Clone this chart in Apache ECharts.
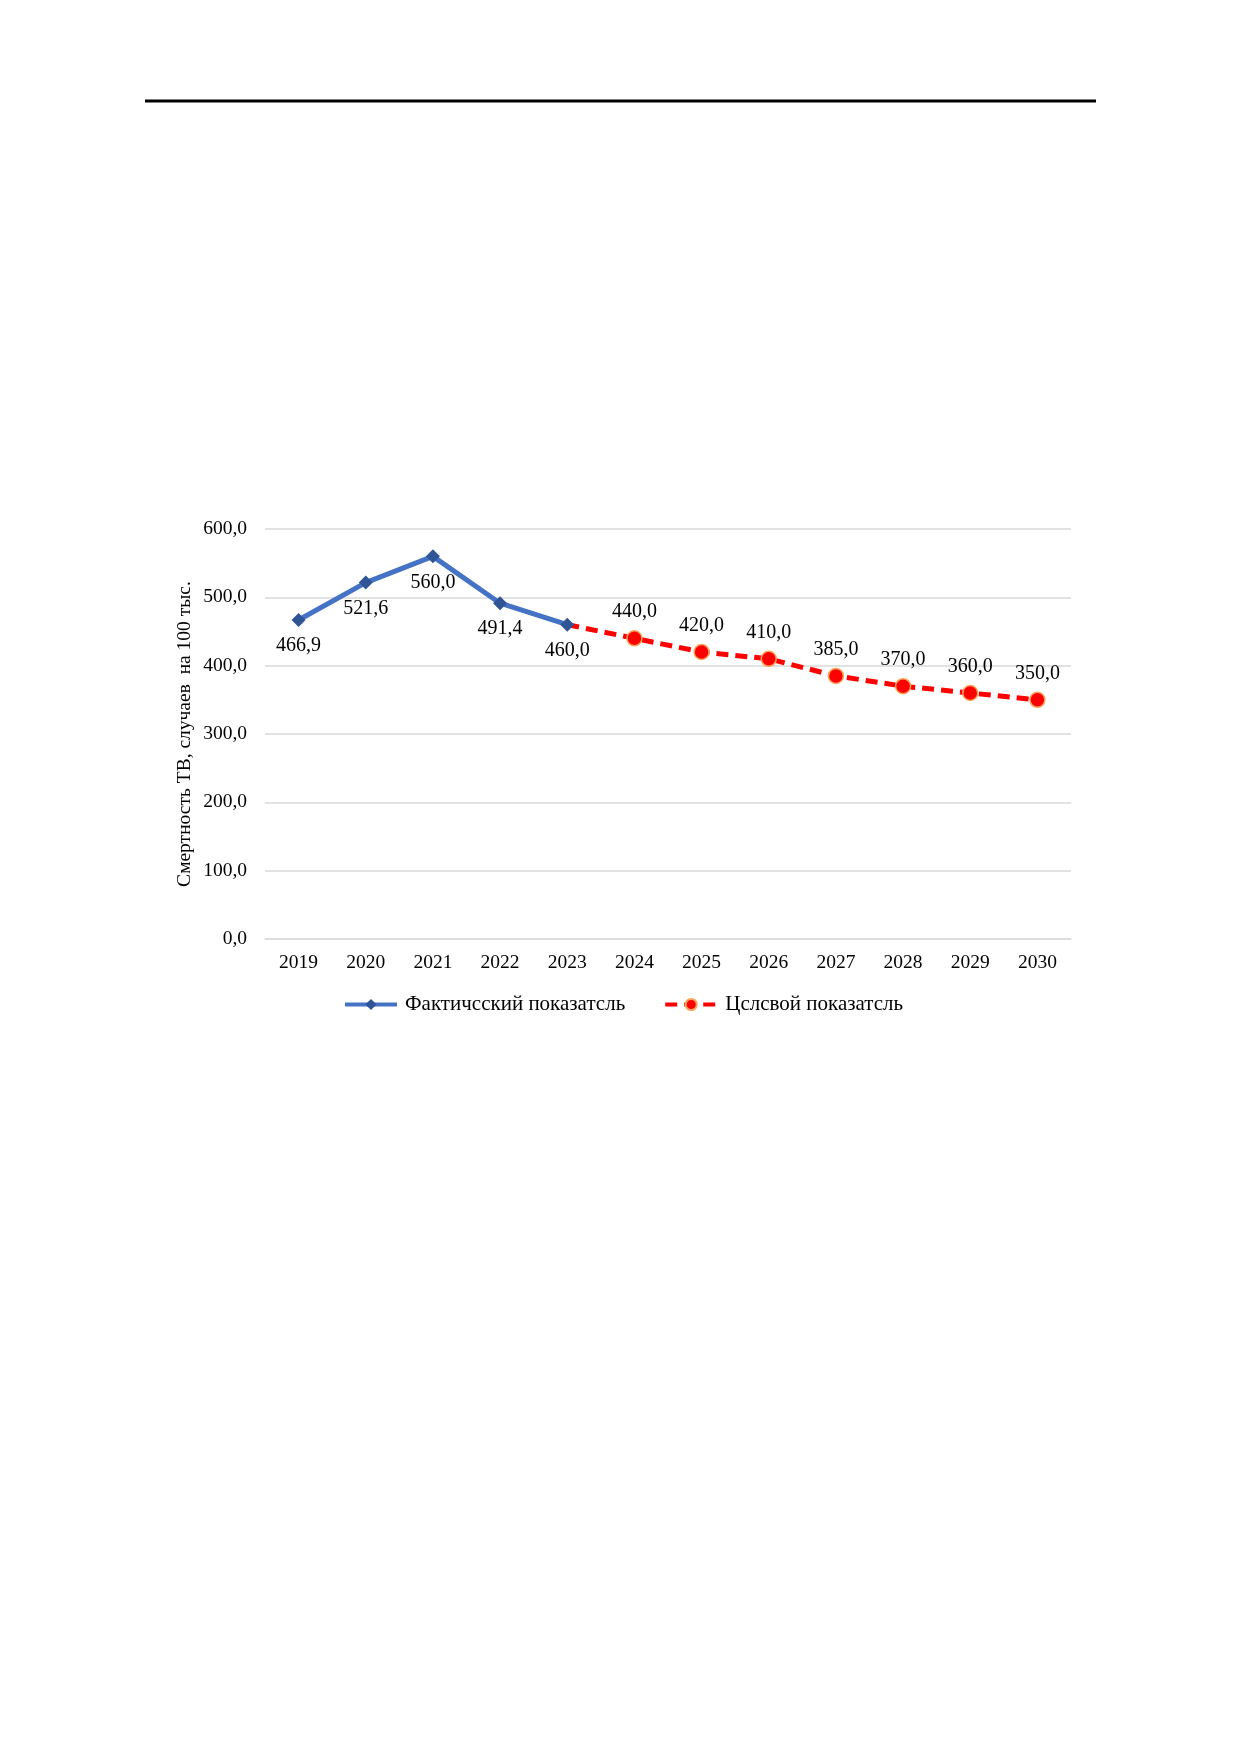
<!DOCTYPE html>
<html>
<head>
<meta charset="utf-8">
<script src="https://cdn.jsdelivr.net/npm/echarts@6/dist/echarts.min.js"></script>
<style>html,body{margin:0;padding:0;background:#fff;}#c{width:1240px;height:1754px;}</style>
</head>
<body>
<div id="c"></div>
<script>
const years = ['2019','2020','2021','2022','2023','2024','2025','2026','2027','2028','2029','2030'];
const actualValues = [466.9, 521.6, 560.0, 491.4, 460.0, null, null, null, null, null, null, null];
const targetValues = [null, null, null, null, 460.0, 440.0, 420.0, 410.0, 385.0, 370.0, 360.0, 350.0];
const seriesNames = ['Фактичсский показатсль', 'Цслсвой показатсль'];
const yAxisTitle = 'Смертность ТВ, случаев  на 100 тыс.';

const fmt = v => Number(v).toFixed(1).replace('.', ',');
const FONT = '"Liberation Serif", "Times New Roman", serif';

const targetData = targetValues.map((v, i) => {
  if (v === null) return null;
  if (i === 4) return { value: v, symbol: 'none', label: { show: false } };
  return v;
});

const chart = echarts.init(document.getElementById('c'), null, { renderer: 'canvas' });
chart.setOption({
  backgroundColor: '#ffffff',
  animation: false,
  textStyle: { fontFamily: FONT },
  graphic: [{
    type: 'line',
    shape: { x1: 145, y1: 101, x2: 1096, y2: 101 },
    style: { stroke: '#000', lineWidth: 3 }
  }],
  grid: { left: 265, right: 169, top: 529, bottom: 815, containLabel: false },
  legend: {
    top: 989,
    left: 338,
    itemWidth: 52,
    itemHeight: 14,
    itemGap: 38,
    textStyle: { fontFamily: FONT, fontSize: 21, color: '#000', padding: [0, 0, 0, 3] },
    data: [
      { name: seriesNames[0], lineStyle: { width: 4 } },
      { name: seriesNames[1], lineStyle: { width: 4 } }
    ]
  },
  xAxis: {
    type: 'category',
    data: years,
    boundaryGap: true,
    axisLine: { lineStyle: { color: '#d9d9d9', width: 1.5 } },
    axisTick: { show: false },
    axisLabel: { fontFamily: FONT, fontSize: 19.5, color: '#000', margin: 14 }
  },
  yAxis: {
    type: 'value',
    min: 0, max: 600, interval: 100,
    name: yAxisTitle,
    nameLocation: 'middle',
    nameGap: 70,
    nameMoveOverlap: false,
    nameTextStyle: { fontFamily: FONT, fontSize: 19.5, color: '#000' },
    axisLine: { show: false },
    axisTick: { show: false },
    splitLine: { lineStyle: { color: '#d9d9d9', width: 1.5 } },
    axisLabel: { fontFamily: FONT, fontSize: 19.5, color: '#000', margin: 18, formatter: v => fmt(v) }
  },
  series: [
    {
      name: seriesNames[1],
      type: 'line',
      data: targetData,
      z: 2,
      symbol: 'circle',
      symbolSize: 15,
      lineStyle: { color: '#ff0000', width: 5, type: [12, 7] },
      itemStyle: { color: '#ff0000', borderColor: '#f8a65a', borderWidth: 1.5 },
      label: { show: true, position: 'top', distance: 8, fontFamily: FONT, fontSize: 20, color: '#000', formatter: p => fmt(p.value) }
    },
    {
      name: seriesNames[0],
      type: 'line',
      data: actualValues,
      z: 3,
      symbol: 'diamond',
      symbolSize: 14,
      lineStyle: { color: '#4472c4', width: 5 },
      itemStyle: { color: '#2f5597' },
      label: { show: true, position: 'bottom', distance: 9, fontFamily: FONT, fontSize: 20, color: '#000', formatter: p => fmt(p.value) }
    }
  ]
});
</script>
</body>
</html>
